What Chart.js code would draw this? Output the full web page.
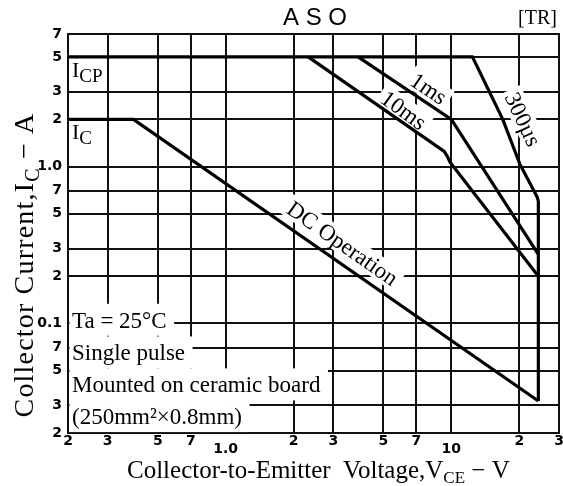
<!DOCTYPE html>
<html>
<head>
<meta charset="utf-8">
<script src="https://cdn.jsdelivr.net/npm/chart.js@4.4.1/dist/chart.umd.min.js"></script>
<style>
html,body{margin:0;padding:0;background:#fff;}
#wrap{width:563px;height:486px;position:relative;}
</style>
</head>
<body>
<div id="wrap"><canvas id="c" width="563" height="486"></canvas></div>
<script>
// ---------- data ----------
const xTicks = [0.2, 0.3, 0.5, 0.7, 1, 2, 3, 5, 7, 10, 20, 30];
const xTickLabels = ['2', '3', '5', '7', '1.0', '2', '3', '5', '7', '10', '2', '3'];
const yTicks = [0.02, 0.03, 0.05, 0.07, 0.1, 0.2, 0.3, 0.5, 0.7, 1, 2, 3, 5, 7];
const yTickLabels = ['2', '3', '5', '7', '0.1', '2', '3', '5', '7', '1.0', '2', '3', '5', '7'];

// ICP limit + 300us pulse + VCEO limit (VCE in V, IC in A)
const icpVce = [0.2, 12.4, 16.9, 20.1, 24.0, 24.3, 24.3];
const icpIc  = [5, 5, 2, 1.04, 0.64, 0.6, 0.032];
// IC limit + DC operation
const dcVce = [0.2, 0.39, 24.3];
const dcIc  = [2, 2, 0.032];
// 1 ms pulse
const ms1Vce = [3.86, 10, 24.3];
const ms1Ic  = [5, 2, 0.275];
// 10 ms pulse
const ms10Vce = [2.32, 9.3, 9.6, 9.85, 24.3];
const ms10Ic  = [5, 1.25, 1.16, 1.07, 0.2];

const curveTexts = ['DC Operation', '1ms', '10ms', '300µs'];
const noteTexts = ['Ta = 25°C', 'Single pulse', 'Mounted on ceramic board', '(250mm²×0.8mm)'];

// ---------- drawing ----------
const SERIF = '"Liberation Serif","Times New Roman",serif';
const SANS = '"Liberation Sans",Arial,sans-serif';
const TICKF = '"DejaVu Sans",sans-serif';

function pts(xs, ys) { return xs.map((x, i) => ({x: x, y: ys[i]})); }

function setFont(ctx, r) {
  ctx.font = (r.w || 'normal') + ' ' + r.s + 'px ' + (r.f || SERIF);
}
function runsWidth(ctx, runs) {
  let w = 0;
  for (const r of runs) { setFont(ctx, r); w += ctx.measureText(r.t).width; }
  return w;
}
function drawRuns(ctx, runs, x, y) {
  for (const r of runs) {
    setFont(ctx, r);
    ctx.fillText(r.t, x, y + (r.dy || 0));
    x += ctx.measureText(r.t).width;
  }
}

const curveLabelPos = [
  {x: 3.30, y: 0.324, a: 35},
  {x: 7.94, y: 3.15, a: 34},
  {x: 6.15, y: 2.29, a: 36},
  {x: 20.8, y: 2.0, a: 65}
];
const noteY = [0.0938, 0.058, 0.0363, 0.0228];
const LABEL_SIZE = 23;

function drawGridLines(chart) {
  const ctx = chart.ctx, xs = chart.scales.x, ys = chart.scales.y;
  const ca = chart.chartArea;
  ctx.save();
  ctx.fillStyle = '#111';
  xs.ticks.forEach(t => {
    const px = Math.round(xs.getPixelForValue(t.value));
    ctx.fillRect(px - 1, Math.round(ca.top) - 1, 2, Math.round(ca.bottom - ca.top) + 2);
  });
  ys.ticks.forEach(t => {
    const py = Math.round(ys.getPixelForValue(t.value));
    ctx.fillRect(Math.round(ca.left) - 1, py - 1, Math.round(ca.right - ca.left) + 2, 2);
  });
  ctx.restore();
}

const annPlugin = {
  id: 'ann',
  beforeDatasetsDraw(chart) {
    const ctx = chart.ctx, xs = chart.scales.x, ys = chart.scales.y;
    const ca = chart.chartArea;
    drawGridLines(chart);
    ctx.save();
    ctx.fillStyle = '#fff';
    // white boxes behind curve labels
    curveTexts.forEach((t, i) => {
      const p = curveLabelPos[i];
      ctx.save();
      ctx.translate(xs.getPixelForValue(p.x), ys.getPixelForValue(p.y));
      ctx.rotate(p.a * Math.PI / 180);
      ctx.font = LABEL_SIZE + 'px ' + SERIF;
      const w = ctx.measureText(t).width;
      ctx.fillRect(-w / 2 - 4, -LABEL_SIZE * 0.52, w + 8, LABEL_SIZE * 1.0);
      ctx.restore();
    });
    // white boxes behind the notes
    ctx.font = LABEL_SIZE + 'px ' + SERIF;
    noteTexts.forEach((t, i) => {
      const by = ys.getPixelForValue(noteY[i]);
      const w = ctx.measureText(t).width;
      ctx.fillRect(ca.left + 1.5, by - 24, w + 10, 32);
    });
    ctx.restore();
  },
  afterDatasetsDraw(chart) {
    const ctx = chart.ctx, xs = chart.scales.x, ys = chart.scales.y;
    const ca = chart.chartArea;
    ctx.save();
    ctx.fillStyle = '#000';
    ctx.textBaseline = 'alphabetic';
    curveTexts.forEach((t, i) => {
      const p = curveLabelPos[i];
      ctx.save();
      ctx.translate(xs.getPixelForValue(p.x), ys.getPixelForValue(p.y));
      ctx.rotate(p.a * Math.PI / 180);
      ctx.font = LABEL_SIZE + 'px ' + SERIF;
      ctx.textAlign = 'center';
      ctx.fillText(t, 0, LABEL_SIZE * 0.33);
      ctx.restore();
    });
    ctx.textAlign = 'left';
    ctx.font = LABEL_SIZE + 'px ' + SERIF;
    noteTexts.forEach((t, i) => {
      ctx.fillText(t, ca.left + 4, ys.getPixelForValue(noteY[i]));
    });
    // I_CP and I_C
    drawRuns(ctx, [{t: 'I', s: 22}, {t: 'CP', s: 19, dy: 5}], ca.left + 4, ys.getPixelForValue(3.75));
    drawRuns(ctx, [{t: 'I', s: 22}, {t: 'C', s: 19, dy: 5}], ca.left + 4, ys.getPixelForValue(1.5));
    ctx.restore();
  },
  afterDraw(chart) {
    const ctx = chart.ctx, xs = chart.scales.x;
    ctx.save();
    ctx.fillStyle = '#000';
    // x tick labels
    ctx.font = 'bold 14px ' + TICKF;
    ctx.textAlign = 'center';
    ctx.textBaseline = 'middle';
    xTicks.forEach((v, i) => {
      const lab = xTickLabels[i];
      const decade = (lab === '1.0' || lab === '10');
      ctx.fillText(lab, xs.getPixelForValue(v), decade ? 449 : 441);
    });
    ctx.textBaseline = 'alphabetic';
    // title
    ctx.textAlign = 'left';
    ctx.font = '24px ' + SANS;
    ctx.fillText('A S O', 283, 25);
    ctx.font = '20px ' + SERIF;
    ctx.textAlign = 'right';
    ctx.fillText('[TR]', 557, 24);
    ctx.textAlign = 'left';
    // x axis title
    const xr = [{t: 'Collector-to-Emitter  Voltage,V', s: 25}, {t: 'CE', s: 17, dy: 5}, {t: ' − V', s: 25}];
    drawRuns(ctx, xr, 127, 478);
    // y axis title
    const yr = [{t: 'Collector Current,I', s: 28}, {t: 'C', s: 20, dy: 6}, {t: ' − A', s: 28}];
    const target = 305;
    const nat = runsWidth(ctx, yr);
    if ('letterSpacing' in ctx && nat < target) {
      ctx.letterSpacing = ((target - nat) / 24).toFixed(2) + 'px';
    }
    const w = runsWidth(ctx, yr);
    ctx.translate(33, 265);
    ctx.rotate(-Math.PI / 2);
    drawRuns(ctx, yr, -w / 2, 0);
    ctx.restore();
  }
};

const lineStyle = {
  showLine: true, pointRadius: 0, borderColor: '#000', backgroundColor: '#000',
  borderWidth: 3.2, tension: 0, fill: false, borderJoinStyle: 'miter', borderCapStyle: 'butt'
};

new Chart(document.getElementById('c'), {
  type: 'scatter',
  data: {
    datasets: [
      Object.assign({label: 'ICP / 300µs', data: pts(icpVce, icpIc)}, lineStyle),
      Object.assign({label: 'IC / DC', data: pts(dcVce, dcIc)}, lineStyle),
      Object.assign({label: '1ms', data: pts(ms1Vce, ms1Ic)}, lineStyle),
      Object.assign({label: '10ms', data: pts(ms10Vce, ms10Ic)}, lineStyle)
    ]
  },
  options: {
    responsive: false,
    animation: false,
    devicePixelRatio: 1,
    layout: {padding: {top: 34, right: 4, left: 0, bottom: 0}},
    plugins: {legend: {display: false}, tooltip: {enabled: false}, title: {display: false}},
    scales: {
      x: {
        type: 'logarithmic', min: 0.2, max: 30,
        afterBuildTicks: (ax) => { ax.ticks = xTicks.map(v => ({value: v})); },
        afterFit: (ax) => { ax.height = 53; },
        ticks: {display: false, autoSkip: false},
        grid: {display: false, drawTicks: false},
        border: {display: true, color: '#000', width: 2}
      },
      y: {
        type: 'logarithmic', min: 0.02, max: 7,
        afterBuildTicks: (ax) => { ax.ticks = yTicks.map(v => ({value: v})); },
        afterFit: (ax) => { ax.width = 68; },
        ticks: {
          autoSkip: false, padding: 6, color: '#000',
          font: {family: '"DejaVu Sans", sans-serif', size: 14, weight: 'bold'},
          callback: (v) => { const i = yTicks.findIndex(t => Math.abs(t - v) / t < 1e-6); return i >= 0 ? yTickLabels[i] : ''; }
        },
        grid: {display: false, drawTicks: false},
        border: {display: true, color: '#000', width: 2}
      }
    }
  },
  plugins: [annPlugin]
});
</script>
</body>
</html>
